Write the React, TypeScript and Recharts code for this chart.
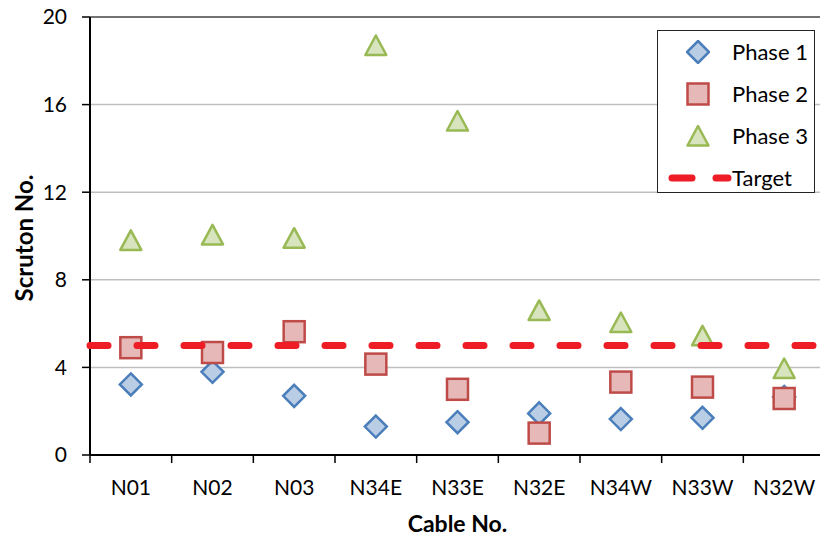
import { ComposedChart, Scatter, XAxis, YAxis, CartesianGrid, ReferenceLine } from 'recharts';

const cables = ['N01', 'N02', 'N03', 'N34E', 'N33E', 'N32E', 'N34W', 'N33W', 'N32W'];
const phase1 = [3.22, 3.8, 2.7, 1.3, 1.5, 1.9, 1.64, 1.7, 2.65];
const phase2 = [4.9, 4.68, 5.63, 4.15, 3.0, 1.0, 3.33, 3.1, 2.58];
const phase3 = [9.8, 10.05, 9.9, 18.7, 15.25, 6.6, 6.05, 5.44, 3.95];
const target = 5;
const yTicks = [0, 4, 8, 12, 16, 20];

const data = cables.map((name, i) => ({
  name,
  p1: phase1[i],
  p2: phase2[i],
  p3: phase3[i],
}));

const FONT = 'Lato, "Open Sans", sans-serif';
const BLUE = { stroke: '#4a7ebb', fill: '#b9cde5' };
const RED = { stroke: '#be4b48', fill: '#e6b9b8' };
const GREEN = { stroke: '#98b954', fill: '#d7e4bd' };
const TARGET = '#ee1c24';

const Diamond = ({ cx, cy }: any) => (
  <polygon
    points={`${cx},${cy - 11} ${cx + 11},${cy} ${cx},${cy + 11} ${cx - 11},${cy}`}
    fill={BLUE.fill}
    stroke={BLUE.stroke}
    strokeWidth={2.5}
  />
);

const Square = ({ cx, cy }: any) => (
  <rect x={cx - 10.5} y={cy - 10.5} width={21} height={21} fill={RED.fill} stroke={RED.stroke} strokeWidth={2.5} />
);

const Triangle = ({ cx, cy }: any) => (
  <polygon
    points={`${cx},${cy - 10} ${cx + 10.5},${cy + 9.5} ${cx - 10.5},${cy + 9.5}`}
    fill={GREEN.fill}
    stroke={GREEN.stroke}
    strokeWidth={2.5}
    strokeLinejoin="round"
  />
);

const CableTick = ({ x, y, payload, index }: any) => {
  const half = payload?.offset ?? 40.8;
  const axisY = y - 25;
  return (
    <g>
      <line x1={x - half} x2={x - half} y1={axisY} y2={axisY + 8} stroke="#000" strokeWidth={1.5} />
      {index === cables.length - 1 && (
        <line x1={x + half} x2={x + half} y1={axisY} y2={axisY + 8} stroke="#000" strokeWidth={1.5} />
      )}
      <text x={x} y={y} dy="0.71em" textAnchor="middle" fontSize={21} fontFamily={FONT} fill="#000">
        {payload.value}
      </text>
    </g>
  );
};

const LegendBox = () => {
  const rows = [
    { label: 'Phase 1', mark: <Diamond cx={12} cy={12} /> },
    { label: 'Phase 2', mark: <Square cx={12} cy={12} /> },
    { label: 'Phase 3', mark: <Triangle cx={12} cy={12} /> },
  ];
  return (
    <div
      style={{
        position: 'absolute',
        left: 657,
        top: 30,
        width: 158,
        height: 163,
        border: '1.5px solid #222',
        background: '#fff',
        boxSizing: 'border-box',
        fontFamily: FONT,
        fontSize: 22,
      }}
    >
      {rows.map((r, i) => (
        <div key={r.label} style={{ position: 'absolute', top: 8 + i * 42, left: 0, height: 26 }}>
          <svg width={24} height={24} style={{ position: 'absolute', left: 28, top: 1 }}>
            {r.mark}
          </svg>
          <span style={{ position: 'absolute', left: 74, whiteSpace: 'nowrap', lineHeight: '26px', top: 0 }}>{r.label}</span>
        </div>
      ))}
      <div style={{ position: 'absolute', top: 134, left: 0, height: 26 }}>
        <svg width={72} height={26} style={{ position: 'absolute', left: 6, top: 0 }}>
          <line x1={8} x2={28} y1={13} y2={13} stroke={TARGET} strokeWidth={7} strokeLinecap="round" />
          <line x1={52} x2={64} y1={13} y2={13} stroke={TARGET} strokeWidth={7} strokeLinecap="round" />
        </svg>
        <span style={{ position: 'absolute', left: 74, whiteSpace: 'nowrap', lineHeight: '26px', top: 0 }}>Target</span>
      </div>
    </div>
  );
};

export default function App() {
  return (
    <div style={{ position: 'absolute', left: 0, top: 0, width: 820, height: 537, overflow: 'hidden', background: '#fff' }}>
      <ComposedChart width={840} height={537} data={data} margin={{ top: 17, right: 15, bottom: 22, left: 0 }}>
        <CartesianGrid vertical={false} stroke="#bfbfbf" strokeWidth={1.5} />
        <XAxis
          dataKey="name"
          scale="band"
          tick={<CableTick />}
          tickLine={false}
          tickSize={8}
          tickMargin={17}
          height={60}
          axisLine={{ stroke: '#000', strokeWidth: 2 }}
          label={({ viewBox }: any) => (
            <text
              x={viewBox.x + viewBox.width / 2}
              y={viewBox.y + 68}
              textAnchor="middle"
              dominantBaseline="central"
              fontSize={23}
              fontWeight="bold"
              fontFamily={FONT}
              fill="#000"
            >
              Cable No.
            </text>
          )}
        />
        <YAxis
          domain={[0, 20]}
          ticks={yTicks}
          width={90}
          tickSize={8}
          tickMargin={15}
          tick={{ fontSize: 21, fontFamily: FONT, fill: '#000' }}
          tickLine={{ stroke: '#000', strokeWidth: 1.5 }}
          axisLine={{ stroke: '#000', strokeWidth: 2 }}
          label={({ viewBox }: any) => {
            const cx = viewBox.x + 23;
            const cy = viewBox.y + viewBox.height / 2 + 2;
            return (
              <text
                x={cx}
                y={cy}
                transform={`rotate(-90, ${cx}, ${cy})`}
                textAnchor="middle"
                dominantBaseline="central"
                fontSize={24}
                fontWeight="bold"
                fontFamily={FONT}
                fill="#000"
              >
                Scruton No.
              </text>
            );
          }}
        />
        <ReferenceLine y={20} stroke="#555" strokeWidth={1.5} />
        <Scatter dataKey="p1" name="Phase 1" shape={Diamond} isAnimationActive={false} />
        <Scatter dataKey="p2" name="Phase 2" shape={Square} isAnimationActive={false} />
        <Scatter dataKey="p3" name="Phase 3" shape={Triangle} isAnimationActive={false} />
        <ReferenceLine
          y={target}
          stroke={TARGET}
          strokeWidth={7}
          strokeDasharray="18 29"
          strokeLinecap="round"
          {...({ zIndex: 1000 } as any)}
        />
      </ComposedChart>
      <LegendBox />
    </div>
  );
}
